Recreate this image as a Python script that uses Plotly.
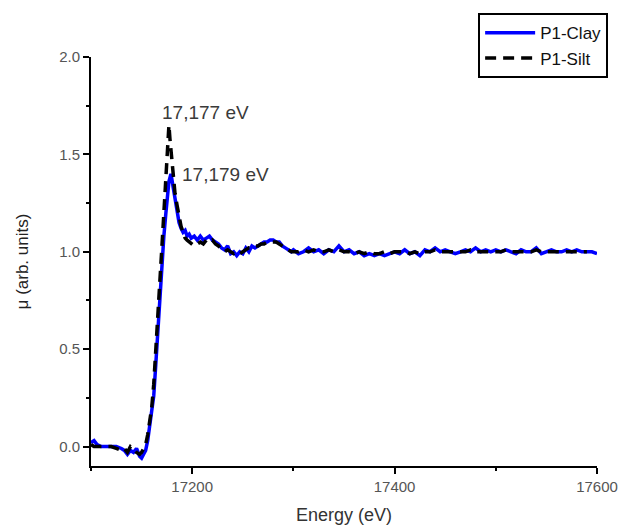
import plotly.graph_objects as go

# ---- Fe K-edge XANES, normalised absorption ----
clay_energy = [17100, 17103, 17106, 17110, 17115, 17120, 17125, 17130, 17133, 17136,
               17139, 17142, 17145, 17148, 17150, 17152, 17154, 17156, 17158, 17160,
               17162, 17164, 17166, 17168, 17170, 17172, 17174, 17176, 17177, 17179,
               17181, 17183, 17185, 17187, 17189, 17191, 17193, 17195, 17197, 17199,
               17202, 17205, 17208, 17211, 17214, 17217, 17220, 17223, 17226, 17229,
               17232, 17235, 17238, 17241, 17244, 17247, 17250, 17253, 17256, 17259,
               17262, 17265, 17268, 17271, 17274, 17277, 17280, 17283, 17286, 17289,
               17292, 17295, 17298,
               17300, 17305, 17310, 17315, 17320, 17325, 17330, 17335, 17340, 17345,
               17350, 17355, 17360, 17365, 17370, 17375, 17380, 17385, 17390, 17395,
               17400, 17405, 17410, 17415, 17420, 17425, 17430, 17435, 17440, 17445,
               17450, 17455, 17460, 17465, 17470, 17475, 17480, 17485, 17490, 17495,
               17500, 17505, 17510, 17515, 17520, 17525, 17530, 17535, 17540, 17545,
               17550, 17555, 17560, 17565, 17570, 17575, 17580, 17585, 17590, 17595,
               17600]
clay_mu = [0.02, 0.03, 0.01, 0.00, 0.00, 0.00, 0.00, -0.01, -0.02, -0.04,
           -0.02, -0.03, -0.01, -0.05, -0.06, -0.04, -0.02, 0.03, 0.10, 0.17,
           0.26, 0.42, 0.58, 0.76, 0.95, 1.08, 1.20, 1.31, 1.36, 1.40,
           1.34, 1.26, 1.20, 1.15, 1.12, 1.10, 1.11, 1.08, 1.09, 1.07,
           1.08, 1.06, 1.08, 1.06, 1.07, 1.08, 1.06, 1.05, 1.04, 1.02,
           1.01, 1.03, 0.99, 1.00, 0.98, 1.00, 0.99, 1.02, 1.00, 1.03,
           1.02, 1.03, 1.04, 1.05, 1.05, 1.06, 1.06, 1.05, 1.05, 1.03,
           1.02, 1.01, 1.00,
           1.01, 0.99, 1.00, 1.02, 1.00, 1.01, 0.99, 1.01, 1.00, 1.03,
           1.00, 1.01, 0.99, 1.00, 0.98, 0.99, 0.98, 0.99, 0.98, 0.99,
           1.00, 0.99, 1.01, 0.99, 1.00, 0.98, 1.01, 1.00, 1.02, 1.00,
           1.01, 1.00, 0.99, 1.00, 1.01, 1.00, 1.02, 1.00, 1.01, 1.00,
           1.01, 1.00, 1.01, 1.00, 0.99, 1.01, 1.00, 1.00, 1.02, 0.99,
           1.00, 1.01, 1.00, 1.00, 1.01, 1.00, 1.01, 1.00, 1.00, 1.00,
           0.99]

silt_energy = [17100, 17103, 17106, 17110, 17115, 17120, 17125, 17130, 17133, 17136,
               17139, 17142, 17145, 17148, 17150, 17152, 17154, 17156, 17158, 17160,
               17162, 17164, 17166, 17168, 17170, 17172, 17174, 17175, 17176, 17177,
               17178, 17179, 17180, 17181, 17183, 17185, 17187, 17189, 17191, 17193,
               17195, 17197, 17199, 17202, 17205, 17208, 17211, 17214, 17217, 17220,
               17223, 17226, 17229, 17232, 17235, 17238, 17241, 17244, 17247, 17250,
               17253, 17256, 17259, 17262, 17265, 17268, 17271, 17274, 17277, 17280,
               17283, 17286, 17289, 17292, 17295, 17298,
               17300, 17305, 17310, 17315, 17320, 17325, 17330, 17335, 17340, 17345,
               17350, 17355, 17360, 17365, 17370, 17375, 17380, 17385, 17390, 17395,
               17400, 17405, 17410, 17415, 17420, 17425, 17430, 17435, 17440, 17445,
               17450, 17455, 17460, 17465, 17470, 17475, 17480, 17485, 17490, 17495,
               17500, 17505, 17510, 17515, 17520, 17525, 17530, 17535, 17540, 17545,
               17550, 17555, 17560, 17565, 17570, 17575, 17580, 17585, 17590]
silt_mu = [0.01, 0.00, 0.00, 0.00, 0.00, 0.00, -0.01, -0.02, -0.01, -0.03,
           0.00, -0.01, -0.03, -0.04, -0.03, -0.01, 0.01, 0.06, 0.12, 0.20,
           0.32, 0.48, 0.66, 0.85, 1.02, 1.20, 1.40, 1.50, 1.56, 1.65,
           1.58, 1.52, 1.45, 1.38, 1.30, 1.24, 1.18, 1.13, 1.10, 1.07,
           1.06, 1.05, 1.04, 1.03, 1.04, 1.05, 1.04, 1.06, 1.05, 1.06,
           1.04, 1.03, 1.01, 1.00, 1.01, 1.00, 0.99, 1.00, 0.99, 1.00,
           1.01, 1.02, 1.02, 1.03, 1.03, 1.04, 1.04, 1.05, 1.05, 1.05,
           1.05, 1.04, 1.03, 1.02, 1.01, 1.00,
           1.00, 1.00, 1.01, 1.00, 1.01, 1.00, 1.00, 1.01, 1.00, 1.01,
           1.00, 1.00, 0.99, 1.00, 0.99, 1.00, 0.99, 0.99, 1.00, 0.99,
           1.00, 1.00, 1.00, 0.99, 1.00, 0.99, 1.00, 1.00, 1.01, 1.00,
           1.00, 1.00, 1.00, 1.00, 1.00, 1.01, 1.00, 1.00, 1.00, 1.00,
           1.00, 1.00, 1.01, 1.00, 1.00, 1.00, 1.00, 1.00, 1.01, 1.00,
           1.00, 1.00, 1.00, 1.00, 1.00, 1.00, 1.00, 1.00, 1.00]

# white-line peak positions (eV) and the labels printed beside them
peak_clay_e, peak_silt_e = 17179, 17177
peak_clay_label, peak_silt_label = "17,179 eV", "17,177 eV"

x_ticks = [17200, 17400, 17600]
y_ticks = [0.0, 0.5, 1.0, 1.5, 2.0]

FONT = "Liberation Sans, Arial, sans-serif"

fig = go.Figure()
fig.add_trace(go.Scatter(
    x=clay_energy, y=clay_mu, mode="lines", name="P1-Clay",
    line=dict(color="#0000FF", width=3.5),
))
fig.add_trace(go.Scatter(
    x=silt_energy, y=silt_mu, mode="lines", name="P1-Silt",
    line=dict(color="#000000", width=3.5, dash="11px,7px"),
))

peak_silt_mu = silt_mu[silt_energy.index(peak_silt_e)]
peak_clay_mu = clay_mu[clay_energy.index(peak_clay_e)]
fig.add_annotation(x=peak_silt_e, y=peak_silt_mu, text=peak_silt_label,
                   showarrow=False, xanchor="center", yanchor="middle",
                   xshift=37, yshift=13,
                   font=dict(family=FONT, size=19, color="#3a3a3a"))
fig.add_annotation(x=peak_clay_e, y=peak_clay_mu, text=peak_clay_label,
                   showarrow=False, xanchor="center", yanchor="middle",
                   xshift=55, yshift=-1,
                   font=dict(family=FONT, size=19, color="#3a3a3a"))

axis_common = dict(
    showline=True, linecolor="black", linewidth=2, mirror=False,
    showgrid=False, zeroline=False,
    ticks="outside", ticklen=6, tickwidth=2, tickcolor="black",
    tickfont=dict(family=FONT, size=15, color="#555555"),
)

fig.update_xaxes(
    range=[17100, 17600], tickvals=x_ticks, tickformat="d",
    minor=dict(dtick=100, tick0=17100, ticks="outside", ticklen=3,
               tickwidth=2, tickcolor="black"),
    title=dict(text="Energy (eV)", font=dict(family=FONT, size=18, color="#333333"),
               standoff=14),
    **axis_common,
)
fig.update_yaxes(
    range=[-0.1, 2.0], tickvals=y_ticks, tickformat=".1f",
    minor=dict(dtick=0.25, tick0=0, ticks="outside", ticklen=3,
               tickwidth=2, tickcolor="black"),
    title=dict(text="μ (arb. units)", font=dict(family=FONT, size=17, color="#222222"),
               standoff=26),
    **axis_common,
)

fig.update_layout(
    width=623, height=529,
    margin=dict(l=91, r=26, t=57, b=63, autoexpand=False),
    paper_bgcolor="white", plot_bgcolor="white",
    showlegend=True,
    legend=dict(
        x=1.022, y=1.107, xanchor="right", yanchor="top",
        bgcolor="white", bordercolor="black", borderwidth=2,
        font=dict(family=FONT, size=17, color="#111111"),
        tracegroupgap=0, itemwidth=50,
    ),
)

fig.write_html("out.html")
